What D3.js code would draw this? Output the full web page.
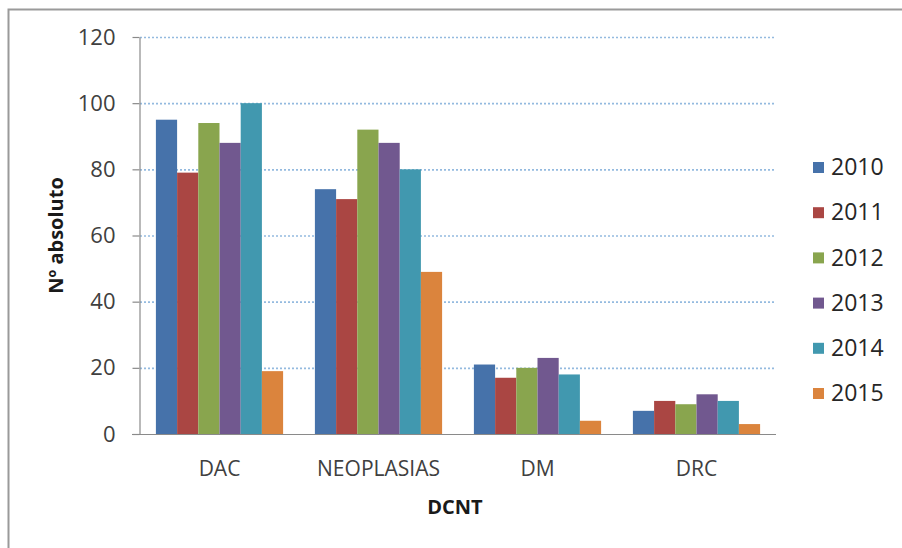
<!DOCTYPE html>
<html>
<head>
<meta charset="utf-8">
<script src="https://cdn.jsdelivr.net/npm/d3@7"></script>
<style>
  html, body { margin: 0; padding: 0; background: #fff; }
  svg { display: block; font-family: "Open Sans", "Liberation Sans", sans-serif; }
</style>
</head>
<body>
<svg id="chart" width="902" height="548"></svg>
<script>
// Chronic non-communicable diseases, absolute counts per year
const categories = ["DAC", "NEOPLASIAS", "DM", "DRC"];
const years = ["2010", "2011", "2012", "2013", "2014", "2015"];
const v2010 = [95, 74, 21, 7];
const v2011 = [79, 71, 17, 10];
const v2012 = [94, 92, 20, 9];
const v2013 = [88, 88, 23, 12];
const v2014 = [100, 80, 18, 10];
const v2015 = [19, 49, 4, 3];
const yTicks = [0, 20, 40, 60, 80, 100, 120];

const seriesValues = [v2010, v2011, v2012, v2013, v2014, v2015];
const colors = ["#4672AA", "#AA4643", "#89A54E", "#71588F", "#4198AF", "#DB843D"];

const svg = d3.select("#chart");
const W = 902, H = 548;

// outer chart frame
svg.append("rect")
  .attr("x", 8.5).attr("y", 9.5)
  .attr("width", W).attr("height", H)
  .attr("fill", "#fff")
  .attr("stroke", "#9a9a9a").attr("stroke-width", 2);

const plot = { left: 140, right: 776, top: 37, bottom: 434 };

const x0 = d3.scaleBand()
  .domain(categories)
  .range([plot.left, plot.right])
  .paddingInner(0).paddingOuter(0);

// six touching bars per category, gap of 1.5 bar widths between groups
const x1 = d3.scaleBand()
  .domain(years)
  .range([0, x0.bandwidth()])
  .paddingInner(0)
  .paddingOuter(0.75);

const y = d3.scaleLinear().domain([0, 120]).range([plot.bottom, plot.top]);

// dotted gridlines
svg.append("g")
  .selectAll("line")
  .data(yTicks.filter(t => t > 0))
  .join("line")
  .attr("x1", plot.left).attr("x2", plot.right)
  .attr("y1", d => y(d) + 0.5).attr("y2", d => y(d) + 0.5)
  .attr("stroke", "#94badf")
  .attr("stroke-width", 1.6)
  .attr("stroke-dasharray", "2,2");

// bars
const groups = svg.append("g")
  .selectAll("g")
  .data(categories)
  .join("g")
  .attr("transform", d => `translate(${x0(d)},0)`);

groups.selectAll("rect")
  .data((c, ci) => years.map((yr, si) => ({ yr, si, v: seriesValues[si][ci] })))
  .join("rect")
  .attr("x", d => x1(d.yr))
  .attr("width", x1.bandwidth())
  .attr("y", d => y(d.v))
  .attr("height", d => y(0) - y(d.v))
  .attr("fill", d => colors[d.si]);

// y axis
const yAxis = d3.axisLeft(y).tickValues(yTicks).tickSize(7).tickPadding(17).tickSizeOuter(0);
const gy = svg.append("g")
  .attr("transform", `translate(${plot.left - 0.5},0)`)
  .call(yAxis);
gy.select(".domain").attr("stroke", "#8a8a8a").attr("stroke-width", 1.2);
gy.selectAll(".tick line").attr("stroke", "#8a8a8a").attr("stroke-width", 1.2);
gy.selectAll(".tick text")
  .attr("fill", "#404040")
  .style("font-size", "22px")
  .style("font-family", "\"Open Sans\", sans-serif");

// x axis
const xAxis = d3.axisBottom(x0).tickSize(0).tickPadding(27).tickSizeOuter(0);
const gx = svg.append("g")
  .attr("transform", `translate(0,${plot.bottom + 0.5})`)
  .call(xAxis);
gx.select(".domain").attr("stroke", "#8a8a8a").attr("stroke-width", 1.2)
  .attr("d", `M${plot.left - 8},0H${plot.right}`);
gx.selectAll(".tick text")
  .attr("fill", "#404040")
  .style("font-size", "21px")
  .style("font-family", "\"Open Sans\", sans-serif");

// axis titles
svg.append("text")
  .attr("transform", `translate(63,${(plot.top + plot.bottom) / 2}) rotate(-90)`)
  .attr("text-anchor", "middle")
  .attr("font-weight", "bold")
  .attr("font-size", 20)
  .attr("fill", "#1a1a1a")
  .text("Nº absoluto");

svg.append("text")
  .attr("x", 455)
  .attr("y", 514)
  .attr("text-anchor", "middle")
  .attr("font-weight", "bold")
  .attr("font-size", 20)
  .attr("fill", "#1a1a1a")
  .text("DCNT");

// legend
const legend = svg.append("g")
  .selectAll("g")
  .data(years)
  .join("g")
  .attr("transform", (d, i) => `translate(813,${167 + i * 45.2})`);

legend.append("rect")
  .attr("x", 0).attr("y", -5)
  .attr("width", 11).attr("height", 11)
  .attr("fill", (d, i) => colors[i]);

legend.append("text")
  .attr("x", 18).attr("y", 0)
  .attr("dy", "0.36em")
  .attr("font-size", 23)
  .attr("fill", "#262626")
  .text(d => d);
</script>
</body>
</html>
